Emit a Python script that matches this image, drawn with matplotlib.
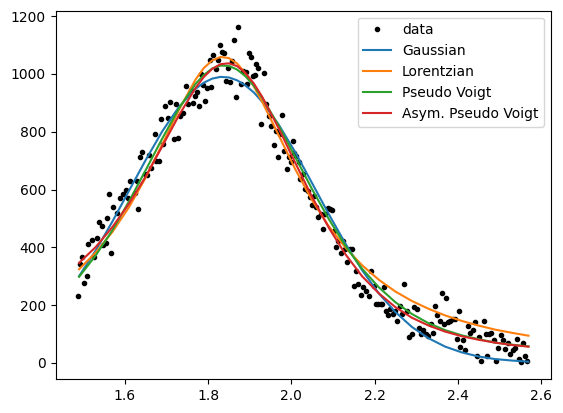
import matplotlib
matplotlib.use("Agg")
import matplotlib.pyplot as plt

x_data = [1.488, 1.492, 1.498, 1.503, 1.508, 1.512, 1.520, 1.526, 1.532, 1.538,
          1.544, 1.548, 1.554, 1.558, 1.562, 1.566, 1.572, 1.580, 1.588, 1.596,
          1.602, 1.608, 1.612, 1.624, 1.628, 1.632, 1.636, 1.642, 1.648, 1.653,
          1.657, 1.664, 1.672, 1.676, 1.682, 1.688, 1.692, 1.697, 1.704, 1.708,
          1.717, 1.724, 1.728, 1.732, 1.740, 1.746, 1.752, 1.760, 1.764, 1.769,
          1.773, 1.778, 1.784, 1.788, 1.792, 1.798, 1.804, 1.808, 1.812, 1.820,
          1.824, 1.828, 1.834, 1.838, 1.842, 1.847, 1.853, 1.858, 1.862, 1.867,
          1.873, 1.878, 1.884, 1.890, 1.894, 1.898, 1.903, 1.908, 1.912, 1.916,
          1.920, 1.927, 1.934, 1.939, 1.946, 1.951, 1.958, 1.963, 1.967, 1.973,
          1.977, 1.983, 1.989, 1.994, 1.999, 2.003, 2.007, 2.011, 2.018, 2.022,
          2.027, 2.033, 2.039, 2.045, 2.049, 2.055, 2.059, 2.065, 2.071, 2.076,
          2.081, 2.088, 2.093, 2.097, 2.103, 2.108, 2.113, 2.119, 2.125, 2.129,
          2.135, 2.141, 2.145, 2.151, 2.155, 2.161, 2.167, 2.172, 2.179, 2.187,
          2.191, 2.199, 2.204, 2.209, 2.215, 2.219, 2.223, 2.227, 2.232, 2.238,
          2.244, 2.249, 2.255, 2.261, 2.266, 2.272, 2.279, 2.284, 2.291, 2.295,
          2.301, 2.307, 2.312, 2.317, 2.323, 2.328, 2.335, 2.340, 2.346, 2.351,
          2.357, 2.362, 2.366, 2.372, 2.377, 2.382, 2.388, 2.393, 2.398, 2.402,
          2.406, 2.412, 2.418, 2.424, 2.430, 2.436, 2.441, 2.446, 2.452, 2.457,
          2.462, 2.467, 2.471, 2.475, 2.480, 2.486, 2.491, 2.497, 2.503, 2.509,
          2.514, 2.520, 2.526, 2.532, 2.537, 2.542, 2.546, 2.551, 2.557, 2.562,
          2.567]
y_data = [231, 342, 367, 276, 301, 411, 425, 367, 432, 487,
          473, 408, 415, 501, 584, 381, 538, 518, 572, 584,
          598, 572, 629, 587, 630, 532, 712, 731, 653, 651,
          721, 676, 793, 699, 698, 843, 757, 888, 849, 902,
          775, 897, 780, 855, 864, 957, 895, 943, 899, 924,
          939, 888, 1001, 962, 906, 950, 1047, 955, 1065, 1016,
          1047, 1102, 1077, 1071, 974, 1021, 972, 1045, 1116, 922,
          1161, 964, 1012, 1008, 964, 1073, 1058, 993, 996, 1033,
          1021, 826, 1003, 895, 855, 820, 753, 803, 713, 791,
          857, 734, 670, 711, 696, 768, 728, 716, 696, 636,
          653, 601, 595, 575, 547, 578, 538, 506, 515, 463,
          515, 535, 532, 529, 457, 400, 423, 382, 423, 394,
          348, 394, 394, 267, 319, 273, 236, 261, 250, 233,
          317, 267, 202, 202, 202, 202, 264, 181, 164, 187,
          169, 181, 146, 198, 169, 273, 181, 91, 100, 192,
          187, 120, 100, 112, 100, 94, 135, 102, 197, 164,
          144, 241, 135, 223, 140, 146, 152, 152, 83, 181,
          56, 79, 43, 129, 102, 112, 140, 25, 91, 8,
          144, 100, 25, 100, 102, 79, 5, 51, 97, 79,
          48, 68, 31, 43, 52, 83, 14, 2, 68, 22,
          5]

# fitted model curves, sampled at these x positions
x_fit = [1.49, 1.53, 1.57, 1.61, 1.65, 1.69, 1.73, 1.77, 1.79, 1.81,
         1.83, 1.85, 1.87, 1.89, 1.91, 1.93, 1.97, 2.01, 2.05, 2.09,
         2.13, 2.17, 2.21, 2.25, 2.29, 2.33, 2.37, 2.41, 2.45, 2.49,
         2.53, 2.57]
y_gauss = [300, 389, 489, 596, 702, 802, 886, 949, 970, 984,
           990, 988, 978, 960, 936, 904, 824, 728, 622, 515,
           413, 321, 241, 176, 124, 85, 56, 36, 22, 13,
           8, 4]
y_lorentz = [324, 382, 453, 539, 641, 757, 876, 981, 1021, 1047,
             1059, 1055, 1036, 1002, 957, 904, 787, 669, 563, 473,
             399, 338, 288, 247, 214, 187, 164, 145, 129, 115,
             104, 94]
y_pvoigt = [298, 372, 459, 559, 667, 777, 881, 966, 997, 1019,
            1029, 1028, 1015, 992, 959, 918, 820, 711, 601, 498,
            405, 326, 262, 210, 169, 137, 113, 95, 82, 70,
            63, 57]
y_apvoigt = [346, 401, 470, 551, 645, 750, 857, 952, 990, 1018,
             1034, 1037, 1027, 1003, 967, 921, 811, 691, 574, 468,
             376, 300, 241, 193, 156, 129, 108, 92, 80, 70,
             62, 56]

fig = plt.figure(figsize=(5.63, 4.13), dpi=100)
ax = fig.add_axes([0.099, 0.0823, 0.8797, 0.8917])
ax.plot(x_data, y_data, "k.", label="data")
ax.plot(x_fit, y_gauss, label="Gaussian")
ax.plot(x_fit, y_lorentz, label="Lorentzian")
ax.plot(x_fit, y_pvoigt, label="Pseudo Voigt")
ax.plot(x_fit, y_apvoigt, label="Asym. Pseudo Voigt")
ax.legend(loc="upper right")
fig.savefig("out.png", dpi=100)
